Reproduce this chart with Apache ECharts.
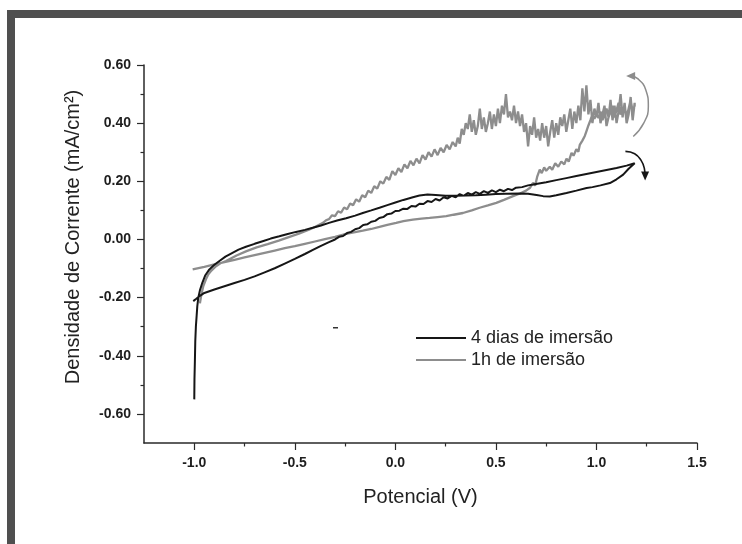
<!DOCTYPE html>
<html>
<head>
<meta charset="utf-8">
<style>
  html, body { margin: 0; padding: 0; background: #fff; }
  #chart { width: 742px; height: 544px; }
</style>
<script src="https://cdn.jsdelivr.net/npm/echarts@6/dist/echarts.min.js"></script>
</head>
<body>
<div id="chart"></div>
<script>
// Potencial (V) x Densidade de corrente (mA/cm2), voltametria ciclica
const seriesNames = ['4 dias de imersão', '1h de imersão']

// marcas dos eixos
const xMajor = [-1.0, -0.5, 0.0, 0.5, 1.0, 1.5]
const xMinor = [-0.75, -0.25, 0.25, 0.75, 1.25]
const yMajor = [-0.6, -0.4, -0.2, 0.0, 0.2, 0.4, 0.6]
const yMinor = [-0.5, -0.3, -0.1, 0.1, 0.3, 0.5]

// 4 dias: varredura de ida
const blackForward = [
  [-1.005,-0.212],[-0.99,-0.204],[-0.97,-0.193],[-0.95,-0.184],[-0.90,-0.172],[-0.85,-0.161],
  [-0.80,-0.150],[-0.75,-0.139],[-0.70,-0.127],[-0.65,-0.113],[-0.60,-0.099],[-0.55,-0.083],
  [-0.50,-0.067],[-0.45,-0.050],[-0.41,-0.036],[-0.37,-0.022],[-0.33,-0.009],[-0.30,0.0],
  [-0.28,0.009],[-0.26,0.012],[-0.24,0.022],[-0.22,0.026],[-0.20,0.035],[-0.18,0.039],
  [-0.16,0.050],[-0.14,0.052],[-0.12,0.061],[-0.10,0.064],[-0.08,0.074],[-0.06,0.077],
  [-0.04,0.087],[-0.02,0.089],[0.0,0.098],[0.02,0.099],[0.04,0.106],[0.06,0.105],
  [0.08,0.115],[0.10,0.113],[0.12,0.123],[0.14,0.122],[0.16,0.132],[0.18,0.129],
  [0.20,0.139],[0.22,0.134],[0.24,0.145],[0.26,0.141],[0.28,0.150],[0.30,0.145],
  [0.32,0.156],[0.34,0.150],[0.36,0.160],[0.38,0.154],[0.40,0.163],[0.42,0.157],
  [0.44,0.166],[0.46,0.160],[0.48,0.169],[0.50,0.163],[0.52,0.171],[0.54,0.166],
  [0.56,0.174],[0.58,0.170],[0.60,0.178],[0.63,0.180],[0.66,0.186],[0.685,0.189],
  [0.75,0.197],[0.80,0.204],[0.85,0.211],[0.90,0.218],[0.95,0.225],[1.00,0.232],
  [1.05,0.239],[1.10,0.246],[1.15,0.254],[1.19,0.262]
]
// 4 dias: varredura de volta
const blackReturn = [
  [1.16,0.243],[1.133,0.223],[1.10,0.207],[1.067,0.194],[1.02,0.186],[0.98,0.180],
  [0.951,0.177],[0.90,0.168],[0.851,0.160],[0.80,0.152],[0.768,0.148],[0.735,0.149],
  [0.702,0.153],[0.66,0.157],[0.62,0.158],[0.55,0.157],[0.50,0.156],[0.45,0.154],
  [0.40,0.152],[0.35,0.151],[0.30,0.150],[0.25,0.150],[0.20,0.153],[0.16,0.155],
  [0.12,0.151],[0.087,0.145],[0.04,0.136],[0.0,0.127],[-0.04,0.118],[-0.079,0.109],
  [-0.12,0.100],[-0.162,0.091],[-0.20,0.082],[-0.245,0.073],[-0.29,0.065],[-0.33,0.057],
  [-0.37,0.048],[-0.411,0.040],[-0.45,0.033],[-0.494,0.026],[-0.54,0.018],[-0.577,0.011],
  [-0.62,0.003],[-0.66,-0.006],[-0.70,-0.015],[-0.743,-0.025],[-0.78,-0.035],[-0.81,-0.046],
  [-0.845,-0.059],[-0.875,-0.074],[-0.90,-0.087],[-0.925,-0.103],[-0.945,-0.123],[-0.96,-0.149],
  [-0.972,-0.175],[-0.98,-0.20],[-0.985,-0.23],[-0.988,-0.26],[-0.992,-0.30],[-0.995,-0.35],
  [-0.997,-0.42],[-0.999,-0.48],[-1.0,-0.55]
]

// 1h: varredura de ida
const grayForward = [
  [-1.008,-0.103],[-0.95,-0.094],[-0.90,-0.086],[-0.85,-0.078],[-0.80,-0.070],[-0.75,-0.062],
  [-0.70,-0.054],[-0.65,-0.046],[-0.60,-0.038],[-0.55,-0.030],[-0.50,-0.023],[-0.45,-0.015],
  [-0.40,-0.007],[-0.35,0.001],[-0.30,0.009],[-0.245,0.019],[-0.20,0.025],[-0.162,0.030],
  [-0.12,0.036],[-0.079,0.043],[-0.04,0.050],[0.004,0.057],[0.04,0.063],[0.087,0.068],
  [0.13,0.072],[0.17,0.074],[0.21,0.077],[0.253,0.080],[0.29,0.085],[0.336,0.091],
  [0.38,0.100],[0.419,0.109],[0.46,0.117],[0.502,0.126],[0.54,0.136],[0.585,0.149],
  [0.62,0.158],[0.65,0.168],[0.67,0.178],[0.685,0.195],[0.695,0.185],[0.705,0.215],
  [0.718,0.240],[0.728,0.228],[0.74,0.248],[0.75,0.236],[0.768,0.250],[0.78,0.240],
  [0.795,0.262],[0.81,0.250],[0.825,0.268],[0.84,0.258],[0.851,0.278],[0.862,0.268],
  [0.876,0.298],[0.886,0.288],[0.90,0.310],[0.91,0.302],[0.917,0.325],[0.93,0.340],
  [0.942,0.356],[0.95,0.372],[0.96,0.392],[0.97,0.410],[0.98,0.430],[0.99,0.415],
  [1.00,0.432],[1.01,0.418],[1.02,0.44],[1.03,0.41],[1.05,0.45],[1.06,0.42],
  [1.08,0.46],[1.09,0.42],[1.11,0.47],[1.12,0.43],[1.14,0.46],[1.15,0.42],
  [1.17,0.48],[1.18,0.44],[1.19,0.46]
]
// 1h: varredura de volta
const grayReturn = [
  [1.19,0.47],[1.18,0.41],[1.17,0.49],[1.16,0.43],[1.15,0.40],[1.14,0.47],[1.13,0.42],
  [1.12,0.50],[1.11,0.44],[1.10,0.40],[1.09,0.46],[1.08,0.41],[1.07,0.48],[1.06,0.42],
  [1.05,0.39],[1.04,0.46],[1.03,0.43],[1.02,0.40],[1.01,0.47],[1.00,0.42],[0.99,0.45],
  [0.98,0.40],[0.97,0.48],[0.96,0.43],[0.95,0.53],[0.94,0.44],[0.93,0.52],[0.92,0.41],
  [0.91,0.46],[0.90,0.40],[0.89,0.44],[0.88,0.38],[0.87,0.45],[0.86,0.41],[0.85,0.37],
  [0.84,0.43],[0.83,0.39],[0.82,0.42],[0.81,0.36],[0.80,0.40],[0.79,0.35],[0.78,0.41],
  [0.77,0.37],[0.76,0.32],[0.75,0.39],[0.74,0.35],[0.73,0.40],[0.72,0.34],[0.71,0.38],
  [0.70,0.35],[0.69,0.42],[0.68,0.36],[0.67,0.39],[0.66,0.32],[0.65,0.40],[0.64,0.37],
  [0.63,0.43],[0.62,0.39],[0.61,0.44],[0.60,0.40],[0.59,0.46],[0.58,0.41],[0.57,0.44],
  [0.56,0.42],[0.55,0.50],[0.54,0.43],[0.53,0.46],[0.52,0.40],[0.51,0.45],[0.50,0.39],
  [0.49,0.43],[0.48,0.38],[0.47,0.44],[0.46,0.40],[0.45,0.37],[0.44,0.42],[0.43,0.38],
  [0.42,0.45],[0.41,0.39],[0.40,0.36],[0.39,0.41],[0.38,0.37],[0.37,0.43],[0.36,0.38],
  [0.35,0.40],[0.34,0.36],[0.33,0.38],[0.32,0.33],[0.31,0.35],[0.30,0.32],[0.285,0.335],
  [0.27,0.31],[0.255,0.325],[0.24,0.30],[0.225,0.315],[0.21,0.29],[0.195,0.31],[0.18,0.285],
  [0.165,0.30],[0.15,0.275],[0.135,0.29],[0.12,0.262],[0.105,0.278],[0.09,0.255],[0.075,0.27],
  [0.06,0.245],[0.045,0.258],[0.03,0.232],[0.015,0.245],[0.0,0.222],[-0.015,0.235],[-0.03,0.205],
  [-0.045,0.215],[-0.06,0.192],[-0.075,0.20],[-0.09,0.175],[-0.105,0.183],[-0.12,0.16],
  [-0.135,0.168],[-0.15,0.145],[-0.165,0.152],[-0.18,0.13],[-0.195,0.138],[-0.21,0.118],
  [-0.225,0.124],[-0.24,0.104],[-0.255,0.11],[-0.27,0.092],[-0.285,0.097],[-0.30,0.08],
  [-0.315,0.083],[-0.33,0.07],[-0.345,0.066],[-0.36,0.057],[-0.40,0.043],[-0.43,0.034],
  [-0.48,0.020],[-0.53,0.008],[-0.58,-0.004],[-0.635,-0.016],[-0.69,-0.027],[-0.74,-0.040],
  [-0.79,-0.055],[-0.842,-0.074],[-0.87,-0.082],[-0.892,-0.092],[-0.915,-0.107],[-0.93,-0.12],
  [-0.942,-0.137],[-0.955,-0.16],[-0.965,-0.19],[-0.972,-0.22]
]

// setas indicando o sentido da varredura
const arrowGray = [[1.183,0.354],[1.235,0.40],[1.258,0.457],[1.245,0.515],[1.205,0.553],[1.17,0.562]]
const arrowBlack = [[1.144,0.303],[1.19,0.295],[1.222,0.272],[1.238,0.245],[1.242,0.218]]

const blackColor = '#161616'
const grayColor = '#8d8d8d'
const axisColor = '#2a2a2a'
const font = 'Liberation Sans'

function arrowData(pts, rotate) {
  return pts.map((p, i) => {
    if (i !== pts.length - 1) return p
    return { value: p, symbol: 'triangle', symbolSize: [8, 9], symbolRotate: rotate }
  })
}

const xRange = { min: -1.25, max: 1.5 }
const yRange = { min: -0.7, max: 0.6 }

const chart = echarts.init(document.getElementById('chart'))
chart.setOption({
  animation: false,
  backgroundColor: '#fff',
  grid: { left: 144, right: 45, top: 65, bottom: 101 },
  legend: {
    data: seriesNames,
    orient: 'vertical',
    left: 416,
    top: 328,
    padding: 0,
    itemGap: 2,
    itemWidth: 50,
    itemHeight: 2,
    icon: 'rect',
    selectedMode: false,
    textStyle: { fontFamily: font, fontSize: 18, color: '#222', lineHeight: 20 }
  },
  xAxis: [
    {
      type: 'value',
      ...xRange,
      name: 'Potencial (V)',
      nameLocation: 'middle',
      nameGap: 44,
      nameTextStyle: { fontFamily: font, fontSize: 20, color: '#222' },
      axisLine: { onZero: false, lineStyle: { color: axisColor, width: 1.5 } },
      axisTick: { customValues: xMajor, length: 7, lineStyle: { color: axisColor, width: 1.2 } },
      axisLabel: {
        customValues: xMajor,
        margin: 13,
        fontFamily: font,
        fontSize: 14,
        fontWeight: 'bold',
        color: '#1e1e1e',
        formatter: v => v.toFixed(1)
      },
      splitLine: { show: false }
    },
    {
      type: 'value',
      ...xRange,
      position: 'bottom',
      axisLine: { show: false, onZero: false },
      axisTick: { customValues: xMinor, length: 3.5, lineStyle: { color: axisColor, width: 1.2 } },
      axisLabel: { show: false },
      splitLine: { show: false }
    }
  ],
  yAxis: [
    {
      type: 'value',
      ...yRange,
      name: 'Densidade de Corrente (mA/cm²)',
      nameLocation: 'middle',
      nameGap: 61,
      nameTextStyle: { fontFamily: font, fontSize: 20, color: '#222', padding: [0, 0, 0, 34] },
      axisLine: { show: true, onZero: false, lineStyle: { color: axisColor, width: 1.5 } },
      axisTick: { show: true, customValues: yMajor, length: 7, lineStyle: { color: axisColor, width: 1.2 } },
      axisLabel: {
        customValues: yMajor,
        margin: 13,
        fontFamily: font,
        fontSize: 14,
        fontWeight: 'bold',
        color: '#1e1e1e',
        formatter: v => (Math.round(v * 100) / 100).toFixed(2)
      },
      splitLine: { show: false }
    },
    {
      type: 'value',
      ...yRange,
      position: 'left',
      axisLine: { show: false, onZero: false },
      axisTick: { show: true, customValues: yMinor, length: 3.5, lineStyle: { color: axisColor, width: 1.2 } },
      axisLabel: { show: false },
      splitLine: { show: false }
    }
  ],
  series: [
    {
      name: seriesNames[0],
      type: 'line',
      data: blackForward.concat(blackReturn),
      showSymbol: false,
      symbol: 'none',
      color: blackColor,
      lineStyle: { color: blackColor, width: 2 },
      z: 3
    },
    {
      name: seriesNames[1],
      type: 'line',
      data: grayForward.concat(grayReturn),
      showSymbol: false,
      symbol: 'none',
      color: grayColor,
      lineStyle: { color: grayColor, width: 2.3 },
      z: 2
    },
    {
      type: 'line',
      data: arrowData(arrowGray, 90),
      smooth: true,
      symbol: 'none',
      silent: true,
      color: grayColor,
      itemStyle: { color: grayColor },
      lineStyle: { color: grayColor, width: 1.5 }
    },
    {
      type: 'line',
      data: arrowData(arrowBlack, 180),
      smooth: true,
      symbol: 'none',
      silent: true,
      color: blackColor,
      itemStyle: { color: blackColor },
      lineStyle: { color: blackColor, width: 1.6 }
    }
  ],
  graphic: [
    // moldura escura da digitalizacao
    { type: 'rect', shape: { x: 7, y: 10, width: 735, height: 8 }, style: { fill: '#4f4f4f' }, silent: true },
    { type: 'rect', shape: { x: 7, y: 10, width: 8, height: 534 }, style: { fill: '#4f4f4f' }, silent: true },
    { type: 'rect', shape: { x: 333, y: 327, width: 5, height: 1.5 }, style: { fill: '#333' }, silent: true }
  ]
})
</script>
</body>
</html>
